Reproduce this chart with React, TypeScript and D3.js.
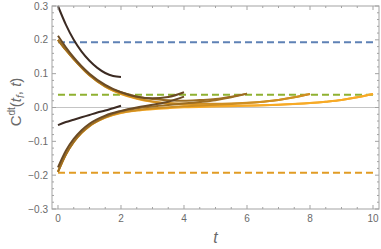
import { useEffect, useRef } from 'react';
import * as d3 from 'd3';

const tfList = [2, 4, 6, 8, 10];

const tGrid2 = [0, 0.25, 0.5, 0.75, 1, 1.25, 1.5, 1.75, 2];
const upper2 = [0.30, 0.245, 0.2, 0.165, 0.138, 0.117, 0.102, 0.093, 0.09];
const lower2 = [-0.052, -0.043, -0.036, -0.029, -0.022, -0.015, -0.009, -0.002, 0.005];

const tGrid4 = [0, 0.25, 0.5, 0.75, 1, 1.5, 2, 2.5, 3, 3.5, 4];
const upper4 = [0.212, 0.178, 0.148, 0.122, 0.1, 0.067, 0.045, 0.032, 0.027, 0.031, 0.045];
const lower4 = [-0.177, -0.128, -0.093, -0.067, -0.048, -0.024, -0.01, 0.0, 0.008, 0.017, 0.032];

const tGrid6 = [0, 0.25, 0.5, 0.75, 1, 1.5, 2, 2.5, 3, 3.5, 4, 4.5, 5, 5.5, 6];
const upper6 = [0.2, 0.17, 0.143, 0.118, 0.096, 0.063, 0.045, 0.0325, 0.025, 0.0215, 0.02, 0.022, 0.025, 0.032, 0.041];
const lower6 = [-0.19, -0.139, -0.102, -0.074, -0.054, -0.028, -0.011, -0.0025, 0.003, 0.0075, 0.0115, 0.016, 0.0215, 0.03, 0.041];

const tGrid8 = [0, 0.25, 0.5, 0.75, 1, 1.5, 2, 2.5, 3, 3.5, 4, 5, 6, 6.5, 7, 7.5, 8];
const upper8 = [0.2, 0.17, 0.143, 0.118, 0.095, 0.062, 0.041, 0.027, 0.018, 0.013, 0.012, 0.011, 0.014, 0.017, 0.022, 0.03, 0.04];
const lower8 = [-0.19, -0.139, -0.102, -0.075, -0.055, -0.03, -0.015, -0.008, -0.003, 0.0005, 0.0035, 0.008, 0.013, 0.017, 0.022, 0.03, 0.04];

const tGrid10 = [0, 0.25, 0.5, 0.75, 1, 1.5, 2, 2.5, 3, 3.5, 4, 5, 6, 7, 8, 8.5, 9, 9.5, 10];
const upper10 = [0.2, 0.17, 0.143, 0.118, 0.095, 0.062, 0.04, 0.026, 0.017, 0.012, 0.009, 0.006, 0.006, 0.008, 0.013, 0.017, 0.022, 0.03, 0.04];
const lower10 = [-0.19, -0.139, -0.102, -0.075, -0.055, -0.03, -0.016, -0.009, -0.005, -0.002, 0.0005, 0.003, 0.005, 0.008, 0.013, 0.017, 0.022, 0.03, 0.04];

// horizontal reference levels (dashed)
const refLevels = [0.193, 0.038, -0.193];

const xTicks = [0, 2, 4, 6, 8, 10];
const yTicks = [-0.3, -0.2, -0.1, 0, 0.1, 0.2, 0.3];

const curveColors = ['#3b2a22', '#6a4a24', '#9c6d22', '#cf8f22', '#f7aa27'];
const refColors = ['#5e81b5', '#8fb131', '#e19c24'];

const App = () => {
  const ref = useRef<SVGSVGElement>(null);

  useEffect(() => {
    if (!ref.current) return;
    const svg = d3.select(ref.current);
    svg.selectAll('*').remove();

    const left = 52, right = 379, top = 6, bottom = 209;
    const x = d3.scaleLinear().domain([-0.19, 10.19]).range([left, right]);
    const y = d3.scaleLinear().domain([-0.3, 0.3]).range([bottom, top]);

    const frameCol = '#a3a3a3';
    const labelCol = '#6a6a6a';
    const font = '"Liberation Sans", Arial, sans-serif';

    // zero line
    svg.append('line')
      .attr('x1', left).attr('x2', right)
      .attr('y1', y(0)).attr('y2', y(0))
      .attr('stroke', '#c4c4c4').attr('stroke-width', 1);

    // dashed reference lines
    refLevels.forEach((v, i) => {
      svg.append('line')
        .attr('x1', x(0)).attr('x2', x(10))
        .attr('y1', y(v)).attr('y2', y(v))
        .attr('stroke', refColors[i]).attr('stroke-width', 2)
        .attr('stroke-dasharray', '7,4');
    });

    // curves
    const grids = [tGrid2, tGrid4, tGrid6, tGrid8, tGrid10];
    const uppers = [upper2, upper4, upper6, upper8, upper10];
    const lowers = [lower2, lower4, lower6, lower8, lower10];
    const line = d3.line<[number, number]>()
      .x(d => x(d[0])).y(d => y(d[1]))
      .curve(d3.curveMonotoneX);

    for (let i = tfList.length - 1; i >= 0; i--) {
      [uppers[i], lowers[i]].forEach(vals => {
        const pts = grids[i].map((t, k) => [t, vals[k]] as [number, number]);
        svg.append('path').datum(pts)
          .attr('fill', 'none')
          .attr('stroke', curveColors[i])
          .attr('stroke-width', 2)
          .attr('d', line);
      });
    }

    // frame
    svg.append('rect')
      .attr('x', left).attr('y', top)
      .attr('width', right - left).attr('height', bottom - top)
      .attr('fill', 'none').attr('stroke', frameCol).attr('stroke-width', 1);

    // x ticks (major every 2, minor every 0.5) on bottom and top
    const xMinor = d3.range(0, 10.01, 0.5).filter(v => Math.abs(v / 2 - Math.round(v / 2)) > 1e-6);
    const tickG = svg.append('g').attr('stroke', frameCol).attr('stroke-width', 1);
    xTicks.forEach(v => {
      tickG.append('line').attr('x1', x(v)).attr('x2', x(v)).attr('y1', bottom).attr('y2', bottom - 4);
      tickG.append('line').attr('x1', x(v)).attr('x2', x(v)).attr('y1', top).attr('y2', top + 4);
    });
    xMinor.forEach(v => {
      tickG.append('line').attr('x1', x(v)).attr('x2', x(v)).attr('y1', bottom).attr('y2', bottom - 2);
      tickG.append('line').attr('x1', x(v)).attr('x2', x(v)).attr('y1', top).attr('y2', top + 2);
    });

    // y ticks (major every 0.1, minor every 0.02) on left and right
    const yMinor = d3.range(-30, 31, 2).filter(v => v % 10 !== 0).map(v => v / 100);
    yTicks.forEach(v => {
      tickG.append('line').attr('x1', left).attr('x2', left + 4).attr('y1', y(v)).attr('y2', y(v));
      tickG.append('line').attr('x1', right).attr('x2', right - 4).attr('y1', y(v)).attr('y2', y(v));
    });
    yMinor.forEach(v => {
      tickG.append('line').attr('x1', left).attr('x2', left + 2).attr('y1', y(v)).attr('y2', y(v));
      tickG.append('line').attr('x1', right).attr('x2', right - 2).attr('y1', y(v)).attr('y2', y(v));
    });

    // tick labels
    xTicks.forEach(v => {
      svg.append('text')
        .attr('x', x(v)).attr('y', 222)
        .attr('text-anchor', 'middle')
        .attr('fill', labelCol).style('font-family', font).style('font-size', '10px')
        .text(String(v));
    });
    yTicks.forEach(v => {
      svg.append('text')
        .attr('x', 48).attr('y', y(v) + 3.5)
        .attr('text-anchor', 'end')
        .attr('fill', labelCol).style('font-family', font).style('font-size', '10px')
        .text(v < 0 ? '\u2212' + Math.abs(v).toFixed(1) : v.toFixed(1));
    });

    // axis labels
    svg.append('text')
      .attr('x', x(5)).attr('y', 243)
      .attr('text-anchor', 'middle')
      .attr('fill', labelCol).style('font-family', font).style('font-size', '16px')
      .style('font-style', 'italic')
      .text('t');

    const yl = svg.append('text')
      .attr('transform', 'translate(21,102) rotate(-90)')
      .attr('text-anchor', 'middle')
      .attr('fill', labelCol).style('font-family', font).style('font-size', '15px');
    yl.append('tspan').text('C');
    yl.append('tspan').attr('dy', -6).style('font-size', '10px').text('dt');
    yl.append('tspan').attr('dy', 6).text('(');
    yl.append('tspan').style('font-style', 'italic').text('t');
    yl.append('tspan').attr('dy', 3).style('font-size', '10px').style('font-style', 'italic').text('f');
    yl.append('tspan').attr('dy', -3).text(', ');
    yl.append('tspan').style('font-style', 'italic').text('t');
    yl.append('tspan').text(')');
  }, []);

  return (
    <svg ref={ref} width={381} height={249}
      style={{ position: 'absolute', left: 0, top: 0, background: 'white' }} />
  );
};

export default App;
